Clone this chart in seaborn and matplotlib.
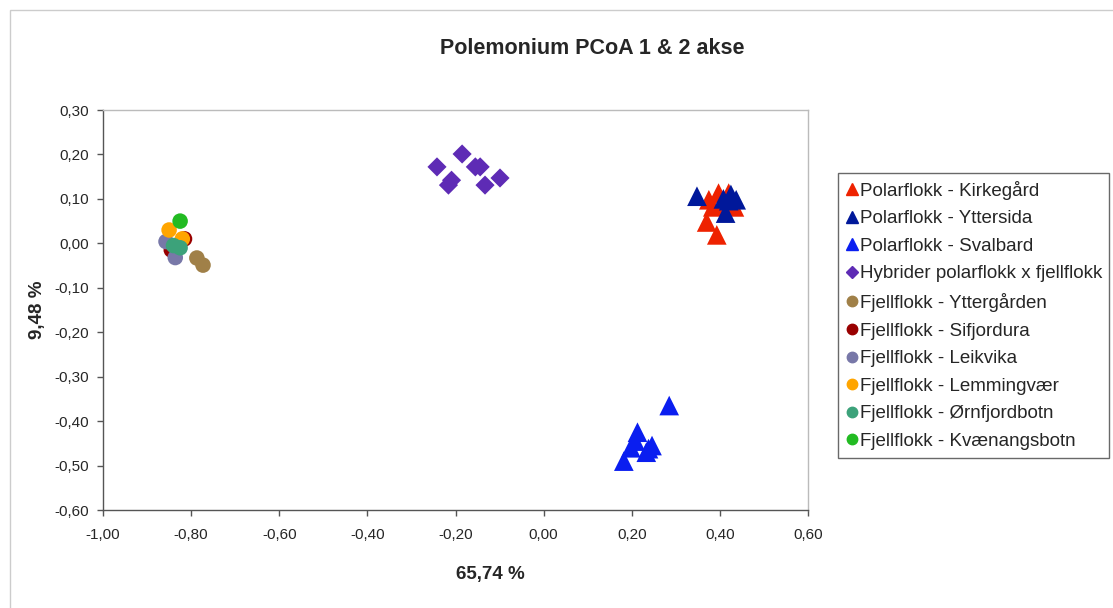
# Polemonium PCoA scatter (axis 1 vs axis 2)
import pandas as pd
import numpy as np
import matplotlib.pyplot as plt
import seaborn as sns
from matplotlib.ticker import FuncFormatter, MultipleLocator
from matplotlib.patches import Rectangle

# Data: PCoA 1 (x) and PCoA 2 (y) per population
kirkegard_x = [0.375, 0.384, 0.397, 0.420, 0.433, 0.370, 0.393, 0.402]
kirkegard_y = [0.098, 0.082, 0.113, 0.113, 0.082, 0.048, 0.019, 0.086]

yttersida_x = [0.348, 0.408, 0.420, 0.437, 0.413, 0.425]
yttersida_y = [0.106, 0.100, 0.096, 0.098, 0.068, 0.110]

svalbard_x = [0.285, 0.213, 0.208, 0.198, 0.246, 0.233, 0.238, 0.182]
svalbard_y = [-0.365, -0.425, -0.445, -0.460, -0.455, -0.470, -0.462, -0.490]

hybrid_x = [-0.242, -0.185, -0.216, -0.209, -0.155, -0.144, -0.133, -0.099]
hybrid_y = [0.172, 0.201, 0.131, 0.142, 0.172, 0.172, 0.131, 0.147]

yttergarden_x = [-0.787, -0.773]
yttergarden_y = [-0.033, -0.049]

sifjordura_x = [-0.815, -0.845]
sifjordura_y = [0.010, -0.015]

leikvika_x = [-0.857, -0.836]
leikvika_y = [0.004, -0.032]

lemmingvaer_x = [-0.850, -0.820]
lemmingvaer_y = [0.030, 0.010]

ornfjordbotn_x = [-0.840, -0.825]
ornfjordbotn_y = [-0.005, -0.010]

kvaenangsbotn_x = [-0.825]
kvaenangsbotn_y = [0.050]

groups = [
    ('Polarflokk - Kirkegård', kirkegard_x, kirkegard_y, '#EE2200', '^'),
    ('Polarflokk - Yttersida', yttersida_x, yttersida_y, '#00189A', '^'),
    ('Polarflokk - Svalbard', svalbard_x, svalbard_y, '#0A1EF0', '^'),
    ('Hybrider polarflokk x fjellflokk', hybrid_x, hybrid_y, '#5E2BB5', 'D'),
    ('Fjellflokk - Yttergården', yttergarden_x, yttergarden_y, '#A08048', 'o'),
    ('Fjellflokk - Sifjordura', sifjordura_x, sifjordura_y, '#990000', 'o'),
    ('Fjellflokk - Leikvika', leikvika_x, leikvika_y, '#7878A8', 'o'),
    ('Fjellflokk - Lemmingvær', lemmingvaer_x, lemmingvaer_y, '#FFA500', 'o'),
    ('Fjellflokk - Ørnfjordbotn', ornfjordbotn_x, ornfjordbotn_y, '#3CA27A', 'o'),
    ('Fjellflokk - Kvænangsbotn', kvaenangsbotn_x, kvaenangsbotn_y, '#22BB22', 'o'),
]
marker_area = {'^': 200, 'D': 95, 'o': 125}

rows = []
for name, xs, ys, _, _ in groups:
    for x, y in zip(xs, ys):
        rows.append({'Gruppe': name, 'PCoA1': x, 'PCoA2': y})
df = pd.DataFrame(rows)

palette = {g[0]: g[3] for g in groups}
markers = {g[0]: g[4] for g in groups}
sizes = {g[0]: marker_area[g[4]] for g in groups}
order = [g[0] for g in groups]

sns.set_style('white')
plt.rcParams['font.family'] = ['Liberation Sans', 'DejaVu Sans']

fig = plt.figure(figsize=(11.13, 6.08), dpi=100)
ax = fig.add_axes([103 / 1113, 1 - 510 / 608, 705 / 1113, 400 / 608])

sns.scatterplot(data=df, x='PCoA1', y='PCoA2', hue='Gruppe', style='Gruppe',
                size='Gruppe', hue_order=order, style_order=order,
                size_order=order, palette=palette, markers=markers,
                sizes=sizes, linewidth=0, legend=False, ax=ax)

ax.set_xlim(-1.0, 0.6)
ax.set_ylim(-0.6, 0.3)
ax.xaxis.set_major_locator(MultipleLocator(0.2))
ax.yaxis.set_major_locator(MultipleLocator(0.1))
comma = FuncFormatter(lambda v, p: f'{v:.2f}'.replace('.', ','))
ax.xaxis.set_major_formatter(comma)
ax.yaxis.set_major_formatter(comma)
ax.tick_params(axis='both', direction='out', length=4, width=1, color='#555555',
               labelsize=11, pad=6, bottom=True, left=True)
ax.tick_params(axis='x', pad=9)

for side in ['top', 'right']:
    ax.spines[side].set_color('#BBBBBB')
for side in ['left', 'bottom']:
    ax.spines[side].set_color('#555555')
for sp in ax.spines.values():
    sp.set_linewidth(1)

ax.set_xlabel('65,74 %', fontsize=13.5, fontweight='bold')
ax.set_ylabel('9,48 %', fontsize=13.5, fontweight='bold')
ax.xaxis.set_label_coords((490 - 103) / 705, -(566 - 510) / 400)
ax.yaxis.set_label_coords((46 - 103) / 705, (510 - 310) / 400)

fig.text(592 / 1113, 1 - 48 / 608, 'Polemonium PCoA 1 & 2 akse',
         ha='center', va='center', fontsize=15.5, fontweight='bold')

# legend to the right of the plot area, built from the same groups
handles = [plt.Line2D([], [], linestyle='none', marker=g[4], color=g[3],
                      markersize=8 if g[4] == '^' else 7.5 if g[4] == 'o' else 6)
           for g in groups]
leg = fig.legend(handles, order, loc='upper left',
                 bbox_to_anchor=(838 / 1113, 1 - 173 / 608), borderaxespad=0,
                 fontsize=13.5, handletextpad=0.05, handlelength=0.7,
                 labelspacing=0.56, borderpad=0.4,
                 frameon=True, fancybox=False, edgecolor='#444444')
leg.get_frame().set_linewidth(1)

# light chart-area border
fig.patches.append(Rectangle((10 / 1113, -0.05), 1.1, 1 - 10 / 608 + 0.05,
                             transform=fig.transFigure, fill=False,
                             edgecolor='#CCCCCC', linewidth=1))

plt.savefig('out.png', dpi=100)
